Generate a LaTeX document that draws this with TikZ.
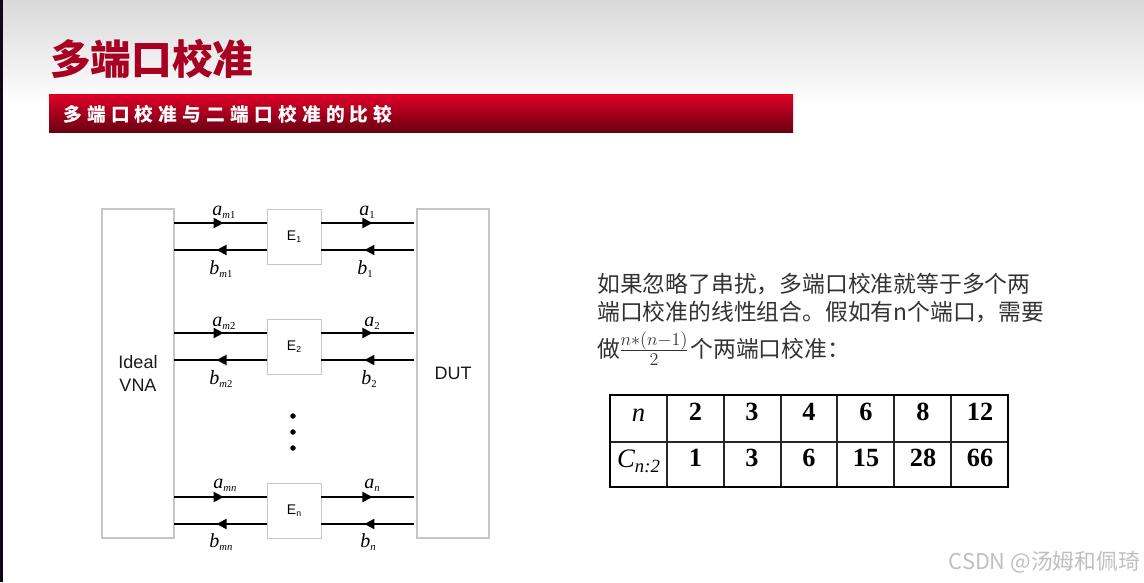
\documentclass[tikz,border=0pt]{standalone}
\usepackage{fontspec}
\usetikzlibrary{arrows.meta,decorations.markings,calc}
\newfontfamily\cjk{Noto Sans CJK SC}
\newfontfamily\cjksp[LetterSpace=28]{Noto Sans CJK SC}
\newfontfamily\tms{Liberation Serif}
\newfontfamily\hlv{Liberation Sans}
\def\px{0.75pt}
\definecolor{boxgrey}{HTML}{C6C6C6}
\definecolor{titlered}{HTML}{A80022}
\definecolor{bodyink}{HTML}{333333}
\definecolor{bartop}{HTML}{E00028}
\definecolor{barmid}{HTML}{C80022}
\definecolor{barbot}{HTML}{6A0012}
\definecolor{edgedark}{HTML}{100818}
\newcommand{\sig}[2]{{\tms\itshape\fontsize{15}{15}\selectfont #1\raisebox{-2.5pt}{\fontsize{8}{8}\selectfont #2}}}
\newcommand{\up}[1]{{\upshape #1}}
\newcommand{\esub}[2]{{\hlv\fontsize{10.5}{11}\selectfont #1\raisebox{-1.5pt}{\fontsize{6.5}{6.5}\selectfont #2}}}
\tikzset{
  x=0.75pt,y=-0.75pt,
  sidebox/.style={draw=boxgrey,line width=0.9pt,inner sep=0pt,minimum width=72*\px,minimum height=329*\px},
  errbox/.style={draw=boxgrey,line width=0.7pt,inner sep=0pt,minimum width=54*\px,minimum height=55*\px},
  sidelabel/.style={font=\hlv\fontsize{13.5}{17.5}\selectfont,text=black!90,align=center,inner sep=0pt},
  siglabel/.style={anchor=base,inner sep=0pt},
  sigline/.style={line width=1.5pt,black,postaction={decorate},
    decoration={markings,mark=at position #1 with {\arrow{Triangle[length=7.5pt,width=7.5pt]}}}},
  bodyline/.style={anchor=base west,inner sep=0pt,text=bodyink,font=\cjk\fontsize{17.1}{20}\selectfont},
  headcell/.style={anchor=center,inner sep=0pt,font=\tms\bfseries\fontsize{19.7}{20}\selectfont},
  dotmark/.style={circle,fill=black,inner sep=0pt,minimum size=5.5*\px},
}
\begin{document}
\begin{tikzpicture}
\useasboundingbox (0,0) rectangle (1144,582);
\fill[white] (0,0) rectangle (1144,582);
\shade[top color=black!15,bottom color=white] (0,0) rectangle (1144,105);
\fill[edgedark] (0,0) rectangle (3,582);
% headers
\node[anchor=base west,inner sep=0pt,text=titlered,font=\cjk\bfseries\fontsize{30.5}{32}\selectfont] (title) at (50,74.5) {多端口校准};
\shade[top color=bartop,middle color=barmid,bottom color=barbot] (49,94) rectangle (793,132);
\node[anchor=base west,inner sep=0pt,text=white,font=\cjksp\bfseries\fontsize{14}{16}\selectfont] (subtitle) at (63,121) {多端口校准与二端口校准的比较};
% diagram boxes
\node[sidebox,sidelabel] (vna) at (138,373.5) {Ideal\\VNA};
\node[sidebox,sidelabel] (dut) at (453,373.5) {DUT};
\node[errbox] (e1) at (294,236.5) {\esub{E}{1}};
\node[errbox] (e2) at (294,346.5) {\esub{E}{2}};
\node[errbox] (en) at (294,510.5) {\esub{E}{n}};
\foreach \e in {e1,e2,en}{
  \coordinate (\e a) at ($(\e.center)+(0,-13.5)$);
  \coordinate (\e b) at ($(\e.center)+(0,13.5)$);
  \draw[sigline=49*\px,shorten <=-1*\px] (vna.east |- \e a) -- (\e.west |- \e a);
  \draw[sigline=50*\px,shorten >=-1*\px] (\e.west |- \e b) -- (vna.east |- \e b);
  \draw[sigline=51*\px,shorten >=2*\px] (\e.east |- \e a) -- (dut.west |- \e a);
  \draw[sigline=52*\px,shorten <=2*\px] (dut.west |- \e b) -- (\e.east |- \e b);
}
% signal labels
\node[siglabel] (am1) at (224,215) {\sig{a}{m\up{1}}};
\node[siglabel] (a1) at (367,215) {\sig{a}{\up{1}}};
\node[siglabel] (bm1) at (221,274) {\sig{b}{m\up{1}}};
\node[siglabel] (b1) at (365,274) {\sig{b}{\up{1}}};
\node[siglabel] (am2) at (224,326) {\sig{a}{m\up{2}}};
\node[siglabel] (a2) at (372,326) {\sig{a}{\up{2}}};
\node[siglabel] (bm2) at (221,384) {\sig{b}{m\up{2}}};
\node[siglabel] (b2) at (369,384) {\sig{b}{\up{2}}};
\node[siglabel] (amn) at (225,488) {\sig{a}{mn}};
\node[siglabel] (an) at (372,488) {\sig{a}{n}};
\node[siglabel] (bmn) at (221,547) {\sig{b}{mn}};
\node[siglabel] (bn) at (368,547) {\sig{b}{n}};
% ellipsis
\node[dotmark] (d1) at (293,416) {};
\node[dotmark] (d2) at (293,432) {};
\node[dotmark] (d3) at (293,448) {};
% body text
\node[bodyline] (l1) at (597,292.5) {如果忽略了串扰，多端口校准就等于多个两};
\node[bodyline] (l2) at (597,320.5) {端口校准的线性组合。假如有n个端口，需要};
\node[bodyline] (l3) at (597,357) {做\hspace{-1pt}\scalebox{1.13}{$\frac{n*(n-1)}{2}$}\hspace{1pt}个两端口校准：};
% table
\draw[line width=0.9pt,black!85] (610,442) -- (1008,442);
\foreach \cx in {667,724,781,837,894,951}
  \draw[line width=0.9pt,black!85] (\cx,395) -- (\cx,487);
\draw[line width=1.7pt,black] (610,395) rectangle (1008,487);
\node[anchor=center,inner sep=0pt,font=\tms\itshape\fontsize{20}{20}\selectfont] (hn) at (638.5,415) {n};
\node[anchor=center,inner sep=0pt] (hc) at (638.5,461) {\tms\itshape\fontsize{20}{20}\selectfont C\raisebox{-4pt}{\fontsize{14}{14}\selectfont n:2}};
\node[headcell] (t1) at (695.5,412) {2};
\node[headcell] (t2) at (752,412) {3};
\node[headcell] (t3) at (809,412) {4};
\node[headcell] (t4) at (866,412) {6};
\node[headcell] (t5) at (923,412) {8};
\node[headcell] (t6) at (980,412) {12};
\node[headcell] (u1) at (695.5,458) {1};
\node[headcell] (u2) at (752,458) {3};
\node[headcell] (u3) at (809,458) {6};
\node[headcell] (u4) at (866,458) {15};
\node[headcell] (u5) at (923,458) {28};
\node[headcell] (u6) at (980,458) {66};
% watermark
\node[anchor=base east,inner sep=0pt,text=black!25,font=\cjk\fontsize{16.3}{18}\selectfont] (mark) at (1140,569) {CSDN @汤姆和佩琦};
\end{tikzpicture}
\end{document}
